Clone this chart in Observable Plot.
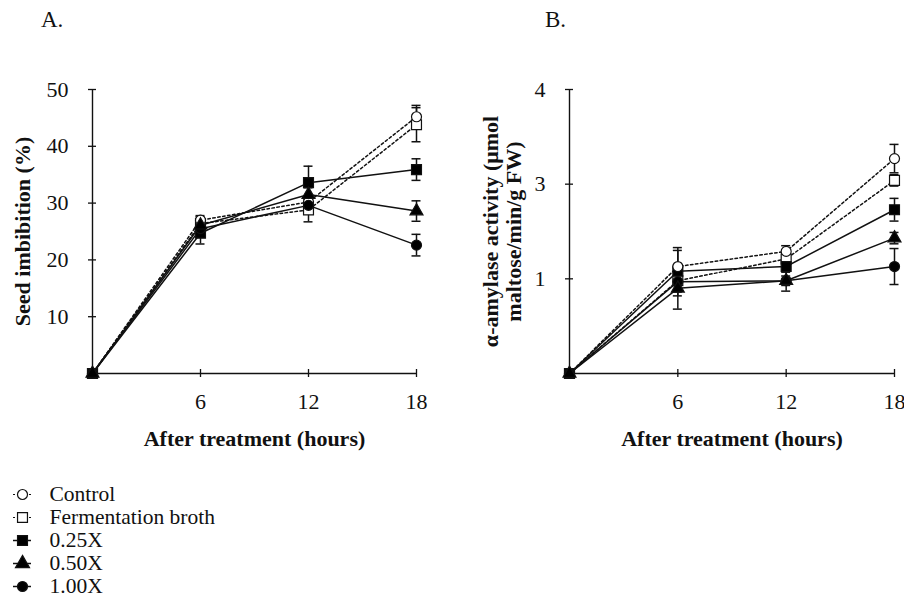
<!DOCTYPE html>
<html><head><meta charset="utf-8">
<script src="https://cdn.jsdelivr.net/npm/d3@7"></script>
<script src="https://cdn.jsdelivr.net/npm/@observablehq/plot@0.6"></script>
<style>
body{margin:0;background:#fff;}
#wrap{position:relative;width:904px;height:600px;font-family:"Liberation Serif","Times New Roman",serif;color:#111;overflow:hidden;}
#wrap svg, #wrap svg text{font-family:"Liberation Serif","Times New Roman",serif !important;}
.panel-label{position:absolute;top:7px;font-size:23px;line-height:26px;}
#A,#B,#legend{position:absolute;}
</style></head><body>
<div id="wrap">
<div id="A" style="left:0;top:0"></div>
<div id="B" style="left:452px;top:0"></div>
<div id="legend" style="left:0;top:470px"></div>
<div class="panel-label" style="left:41px">A.</div>
<div class="panel-label" style="left:545px">B.</div>
</div>
<script>
// ---------- data ----------
const hours = [0, 6, 12, 18];
const hourTicks = [6, 12, 18];
const seriesNames = ["Control", "Fermentation broth", "0.25X", "0.50X", "1.00X"];
const seriesSymbols = ["circle", "square", "square", "triangle", "circle"];
const seriesFill = ["white", "white", "black", "black", "black"];
const seriesDotted = [true, true, false, false, false];

// A. Seed imbibition (%)
const imbControl = [0, 27.0, 30.2, 45.2];
const imbBroth   = [0, 26.4, 28.8, 43.8];
const imb025     = [0, 24.7, 33.6, 35.9];
const imb050     = [0, 26.1, 31.5, 28.6];
const imb100     = [0, 25.5, 29.6, 22.6];
const imbErrControl = [0, 0.8, 1.0, 2.0];
const imbErrBroth   = [0, 1.2, 2.1, 3.0];
const imbErr025     = [0, 1.9, 2.9, 1.9];
const imbErr050     = [0, 1.0, 1.2, 1.8];
const imbErr100     = [0, 1.0, 1.0, 1.9];
const imbTicks = [10, 20, 30, 40, 50];

// B. alpha-amylase activity, read in axis-tick units (ticks printed as 1, 3, 4)
const amyControl = [0, 1.13, 1.29, 2.27];
const amyBroth   = [0, 0.98, 1.21, 2.04];
const amy025     = [0, 1.08, 1.13, 1.73];
const amy050     = [0, 0.90, 0.98, 1.43];
const amy100     = [0, 0.97, 0.98, 1.13];
const amyErrControl = [0, 0.20, 0.06, 0.15];
const amyErrBroth   = [0, 0.16, 0.08, 0.06];
const amyErr025     = [0, 0.22, 0.06, 0.12];
const amyErr050     = [0, 0.22, 0.05, 0.06];
const amyErr100     = [0, 0.10, 0.11, 0.19];
const amyTickPos = [1, 2, 3];
const amyTickLabels = ["1", "3", "4"];

// ---------- build tables ----------
function buildRows(valueArrays, errArrays) {
  const rows = [];
  seriesNames.forEach((name, s) => {
    hours.forEach((h, i) => {
      const v = valueArrays[s][i], e = errArrays[s][i];
      rows.push({series: name, hour: h, value: v, err: e, lo: v - e, hi: v + e,
        symbol: seriesSymbols[s], fill: seriesFill[s], dotted: seriesDotted[s],
        r: seriesSymbols[s] === "square" ? 5.6 : seriesSymbols[s] === "triangle" ? 4.8 : 5});
    });
  });
  return rows;
}
const imbRows = buildRows([imbControl, imbBroth, imb025, imb050, imb100],
                          [imbErrControl, imbErrBroth, imbErr025, imbErr050, imbErr100]);
const amyRows = buildRows([amyControl, amyBroth, amy025, amy050, amy100],
                          [amyErrControl, amyErrBroth, amyErr025, amyErr050, amyErr100]);

const INK = "#111";
const FONT = "Liberation Serif, Times New Roman, serif";
const STYLE = "font-family:'Liberation Serif','Times New Roman',serif;font-size:22px;color:#111;background:transparent;overflow:visible;";

function panel({rows, yDomain, yTicks, yTickFormat, yTitle, width, marginLeft, marginRight, yTitleDx}) {
  const withErr = rows.filter(d => d.err > 0);
  return Plot.plot({
    width, height: 460, marginLeft, marginRight, marginTop: 89, marginBottom: 87,
    style: STYLE,
    x: {domain: [0, 18]},
    y: {domain: yDomain},
    r: {type: "identity"},
    symbol: {type: "identity"},
    marks: [
      Plot.ruleX([0], {stroke: INK, strokeWidth: 1.4}),
      Plot.ruleY([0], {stroke: INK, strokeWidth: 1.4}),
      Plot.ruleY(yTicks, {y: d => d, x1: 0, x2: 0, insetLeft: -4, insetRight: -4, stroke: INK, strokeWidth: 1.3}),
      Plot.ruleX(hourTicks, {x: d => d, y1: yDomain[0], y2: yDomain[0], insetTop: -4, insetBottom: -4, stroke: INK, strokeWidth: 1.3}),
      Plot.axisY({ticks: yTicks, tickSize: 0, tickPadding: 24, tickFormat: yTickFormat, label: null, fontSize: 22, fontFamily: FONT}),
      Plot.axisX({ticks: hourTicks, tickSize: 0, tickPadding: 20, label: null, fontSize: 22, fontFamily: FONT}),
      Plot.line(rows.filter(d => d.dotted), {x: "hour", y: "value", z: "series", stroke: INK, strokeWidth: 1.5, strokeDasharray: "2.5,2.5"}),
      Plot.line(rows.filter(d => !d.dotted), {x: "hour", y: "value", z: "series", stroke: INK, strokeWidth: 1.5}),
      Plot.ruleX(withErr, {x: "hour", y1: "lo", y2: "hi", stroke: INK, strokeWidth: 1.5}),
      Plot.ruleY(withErr, {y: "hi", x1: "hour", x2: "hour", insetLeft: -4.5, insetRight: -4.5, stroke: INK, strokeWidth: 1.5}),
      Plot.ruleY(withErr, {y: "lo", x1: "hour", x2: "hour", insetLeft: -4.5, insetRight: -4.5, stroke: INK, strokeWidth: 1.5}),
      Plot.dot(rows, {x: "hour", y: "value", symbol: "symbol", fill: "fill", r: "r", stroke: INK, strokeWidth: 1.2}),
      Plot.text(["After treatment (hours)"], {text: d => d, frameAnchor: "bottom", dy: 65, lineAnchor: "middle", fontWeight: "bold", fontSize: 22, fontFamily: FONT}),
      Plot.text([yTitle], {text: d => d, frameAnchor: "left", dx: yTitleDx, rotate: -90, lineAnchor: "middle", textAnchor: "middle", fontWeight: "bold", fontSize: 22, lineHeight: 1.05, fontFamily: FONT})
    ]
  });
}

document.getElementById("A").append(panel({
  rows: imbRows, yDomain: [0, 50], yTicks: imbTicks, yTickFormat: d => String(d),
  yTitle: "Seed imbibition (%)", width: 452, marginLeft: 92, marginRight: 36, yTitleDx: -70
}));

document.getElementById("B").append(panel({
  rows: amyRows, yDomain: [0, 3], yTicks: amyTickPos,
  yTickFormat: d => amyTickLabels[amyTickPos.indexOf(d)],
  yTitle: "α-amylase activity (μmol\nmaltose/min/g FW)", width: 452, marginLeft: 117, marginRight: 10, yTitleDx: -67
}));

// ---------- legend ----------
const legendRows = seriesNames.map((name, s) => ({name, symbol: seriesSymbols[s], fill: seriesFill[s], dotted: seriesDotted[s],
  r: seriesSymbols[s] === "square" ? 5.6 : seriesSymbols[s] === "triangle" ? 5.2 : 5}));
document.getElementById("legend").append(Plot.plot({
  width: 260, height: 130, margin: 0,
  style: STYLE,
  y: {type: "point", domain: seriesNames, range: [23, 117], padding: 0, axis: null},
  r: {type: "identity"},
  symbol: {type: "identity"},
  marks: [
    Plot.ruleY(legendRows.filter(d => d.dotted), {y: "name", insetLeft: 13, insetRight: 229, stroke: INK, strokeWidth: 1.2, strokeDasharray: "2,2"}),
    Plot.ruleY(legendRows.filter(d => !d.dotted), {y: "name", insetLeft: 13, insetRight: 229, stroke: INK, strokeWidth: 1.5}),
    Plot.dot(legendRows, {y: "name", frameAnchor: "left", dx: 22, symbol: "symbol", fill: "fill", r: "r", stroke: INK, strokeWidth: 1.2}),
    Plot.text(legendRows, {y: "name", text: "name", frameAnchor: "left", dx: 49, textAnchor: "start", fontSize: 21.5, fontFamily: FONT})
  ]
}));
</script>
</body></html>
